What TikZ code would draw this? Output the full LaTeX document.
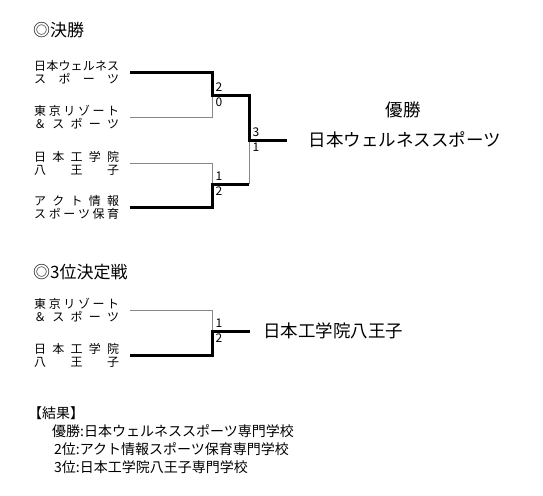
\documentclass[tikz,border=0pt]{standalone}
\usepackage{fontspec}
\setmainfont{Noto Sans CJK JP}
\usetikzlibrary{positioning}
\definecolor{garistipis}{RGB}{135,135,135}

\newcommand{\baris}[1]{\makebox[85pt][s]{#1}}

\begin{document}
\begin{tikzpicture}[x=1pt,y=-1pt,
  tim/.style={anchor=west, inner sep=0pt, text width=96pt, align=left, font=\fontsize{12}{13}\selectfont},
  skor/.style={inner sep=0pt, font=\fontsize{12}{12}\selectfont},
  tebal/.style={line width=3pt, black},
  tipis/.style={line width=0.8pt, garistipis},
  judul/.style={anchor=west, inner sep=0pt, font=\fontsize{17}{20}\selectfont},
  juara/.style={inner sep=0pt, font=\fontsize{17.5}{20}\selectfont},
  hasil/.style={anchor=west, inner sep=0pt, align=left, font=\fontsize{14}{18}\selectfont}]

  \useasboundingbox (0,0) rectangle (543,495);

  % Judul
  \node[judul] (judulfinal) at (33,30) {◎決勝};
  \node[judul] (judultiga) at (33,272) {◎3位決定戦};

  % Tim final
  \node[tim] (t1) at (34,72) {\baris{日\hfill 本\hfill ウ\hfill ェ\hfill ル\hfill ネ\hfill ス}\\\baris{ス\hfill ポ\hfill ー\hfill ツ}};
  \node[tim] (t2) at (34,117) {\baris{東\hfill 京\hfill リ\hfill ゾ\hfill ー\hfill ト}\\\baris{＆\hfill ス\hfill ポ\hfill ー\hfill ツ}};
  \node[tim] (t3) at (34,163) {\baris{日\hfill 本\hfill 工\hfill 学\hfill 院}\\\baris{八\hfill 王\hfill 子}};
  \node[tim] (t4) at (34,207) {\baris{ア\hfill ク\hfill ト\hfill 情\hfill 報}\\\baris{ス\hfill ポ\hfill ー\hfill ツ\hfill 保\hfill 育}};

  % Tim perebutan tempat 3
  \node[tim] (t5) at (34,310) {\baris{東\hfill 京\hfill リ\hfill ゾ\hfill ー\hfill ト}\\\baris{＆\hfill ス\hfill ポ\hfill ー\hfill ツ}};
  \node[tim] (t6) at (34,355) {\baris{日\hfill 本\hfill 工\hfill 学\hfill 院}\\\baris{八\hfill 王\hfill 子}};

  % Titik pertemuan
  \coordinate (sf1) at (212,95);
  \coordinate (sf2) at (212,184);
  \coordinate (fin) at (249,140);
  \coordinate (ujung1) at (287,140);
  \coordinate (tp) at (212,331);
  \coordinate (ujung2) at (250,331);

  % Garis bagan
  \draw[tipis] (t2.east) -| (sf1);
  \draw[tipis] (t3.east) -| (sf2);
  \draw[tipis] (sf2 -| fin) -- (fin);
  \draw[tebal] (t1.east) -| (sf1) -| (fin) -- (ujung1);
  \draw[tebal] (t4.east) -| (sf2) -- (sf2 -| fin);

  \draw[tipis] (t5.east) -| (tp);
  \draw[tebal] (t6.east) -| (tp) -- (ujung2);

  % Skor
  \foreach \j/\atas/\bawah in {sf1/2/0, sf2/1/2, fin/3/1, tp/1/2} {
    \node[skor, above right=3pt and 3.5pt of \j] (\j-a) {\atas};
    \node[skor, below right=3pt and 3.5pt of \j] (\j-b) {\bawah};
  }

  % Pemenang
  \node[juara] (gelar) at (403,110) {優勝};
  \node[juara] (namajuara) at (405,140) {日本ウェルネススポーツ};
  \node[juara, anchor=west] (juaratiga) at (263,331) {日本工学院八王子};

  % Hasil akhir
  \node[hasil] (hasil) at (28,440) {【結果】\\
    \hspace*{24pt}優勝:日本ウェルネススポーツ専門学校\\
    \hspace*{26pt}2位:アクト情報スポーツ保育専門学校\\
    \hspace*{26pt}3位:日本工学院八王子専門学校};
\end{tikzpicture}
\end{document}
